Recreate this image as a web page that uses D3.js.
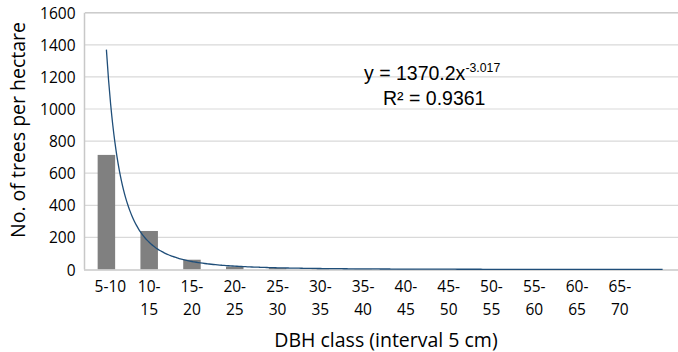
<!DOCTYPE html>
<html>
<head>
<meta charset="utf-8">
<script src="https://cdn.jsdelivr.net/npm/d3@7"></script>
<style>
  html, body { margin: 0; padding: 0; background: #fff; }
  svg { display: block; }
  text { font-family: "Open Sans", "DejaVu Sans", sans-serif; fill: #000; }
</style>
</head>
<body>
<svg id="chart" width="678" height="352"></svg>
<script>
// ---- data ----
const categories = ["5-10", "10-15", "15-20", "20-25", "25-30", "30-35", "35-40",
                    "40-45", "45-50", "50-55", "55-60", "60-65", "65-70", ""];
const trees = [714, 240, 61, 18, 9, 5, 3, 2, 2, 1, 1, 1, 1, 0];
const yTicks = [0, 200, 400, 600, 800, 1000, 1200, 1400, 1600];
const trendA = 1370.2;
const trendB = -3.017;
const eqText = "y = 1370.2x";
const eqExp = "-3.017";
const r2Text = "R\u00B2 = 0.9361";
const yTitle = "No. of trees per hectare";
const xTitle = "DBH class (interval 5 cm)";

// ---- layout ----
const svg = d3.select("#chart");
const L = 85, R = 684, T = 12.7, B = 269.5;

const xc = d3.scalePoint().domain(d3.range(categories.length)).range([L, R]).padding(0.5);
const y = d3.scaleLinear().domain([0, 1600]).range([B, T]);

// gridlines
svg.append("g").selectAll("line").data(yTicks.filter(d => d > 0)).join("line")
  .attr("x1", L).attr("x2", R)
  .attr("y1", d => y(d)).attr("y2", d => y(d))
  .attr("stroke", "#d9d9d9").attr("stroke-width", 1.2);

// plot border (left / top)
svg.append("line").attr("x1", L - 0.5).attr("x2", L - 0.5).attr("y1", T).attr("y2", B)
  .attr("stroke", "#c8c8c8").attr("stroke-width", 1.5);
svg.append("line").attr("x1", L).attr("x2", R).attr("y1", T).attr("y2", T)
  .attr("stroke", "#cccccc").attr("stroke-width", 1.6);

// bars
const bw = 17.5;
svg.append("g").selectAll("rect").data(trees).join("rect")
  .attr("x", (d, i) => xc(i) - bw / 2)
  .attr("width", bw)
  .attr("y", d => y(d))
  .attr("height", d => B - y(d))
  .attr("fill", "#808080");

// x axis line
svg.append("line").attr("x1", L - 1).attr("x2", R).attr("y1", B + 0.5).attr("y2", B + 0.5)
  .attr("stroke", "#c8c8c8").attr("stroke-width", 1.5);

// trendline
const trendPts = d3.range(1, categories.length + 0.001, 0.05).map(t => [t, trendA * Math.pow(t, trendB)]);
const xTrend = d3.scaleLinear().domain([1, categories.length]).range([xc(0), xc(categories.length - 1)]);
svg.append("path")
  .datum(trendPts)
  .attr("fill", "none")
  .attr("stroke", "#1f4e79")
  .attr("stroke-width", 1.3)
  .attr("d", d3.line().x(d => xTrend(d[0])).y(d => y(d[1])).curve(d3.curveMonotoneX));

// y tick labels
svg.append("g").selectAll("text").data(yTicks).join("text")
  .attr("x", 75.5).attr("y", d => y(d) + 6)
  .attr("text-anchor", "end")
  .style("font-size", "15.5px")
  .text(d => d);

// x tick labels (wrapped)
const xl = svg.append("g").selectAll("g").data(categories).join("g");
xl.each(function(c, i) {
  const g = d3.select(this);
  if (!c) return;
  const parts = c.split("-");
  if (parts[0].length === 1) {
    g.append("text").attr("x", xc(i) + 4).attr("y", 291.5).attr("text-anchor", "middle")
      .style("font-size", "15.5px").text(c);
  } else {
    g.append("text").attr("x", xc(i)).attr("y", 291.5).attr("text-anchor", "middle")
      .style("font-size", "15.5px").text(parts[0] + "-");
    g.append("text").attr("x", xc(i)).attr("y", 315).attr("text-anchor", "middle")
      .style("font-size", "15.5px").text(parts[1]);
  }
});

// axis titles
svg.append("text")
  .attr("transform", "translate(25,130) rotate(-90)")
  .attr("text-anchor", "middle")
  .style("font-size", "19.5px")
  .text(yTitle);
svg.append("text")
  .attr("x", 386).attr("y", 346.5)
  .attr("text-anchor", "middle")
  .style("font-size", "19.5px")
  .text(xTitle);

// equation
const eq = svg.append("text")
  .attr("x", 364).attr("y", 79.5)
  .style("font-family", "'Liberation Sans', Arial, sans-serif")
  .style("font-size", "19.5px");
eq.append("tspan").text(eqText);
eq.append("tspan").attr("dy", -8).style("font-size", "12.3px").text(eqExp);
svg.append("text")
  .attr("x", 383).attr("y", 105)
  .style("font-family", "'Liberation Sans', Arial, sans-serif")
  .style("font-size", "19.5px")
  .text(r2Text);
</script>
</body>
</html>
